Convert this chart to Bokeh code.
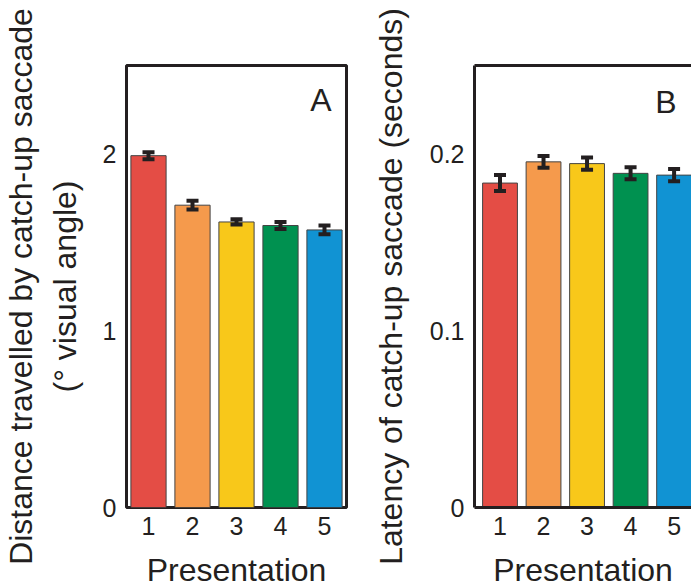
from bokeh.embed import file_html
from bokeh.layouts import row
from bokeh.models import ColumnDataSource, FixedTicker, Label, LinearAxis, Range1d, TeeHead, Whisker
from bokeh.plotting import figure
from bokeh.resources import INLINE

# data
presentation = [1, 2, 3, 4, 5]
colors = ["#E44D45", "#F59A4C", "#F8C81A", "#009150", "#1193D3"]

distance = [1.99, 1.71, 1.615, 1.595, 1.57]
distance_err = [0.02, 0.025, 0.015, 0.02, 0.025]

latency = [0.1835, 0.1955, 0.1945, 0.189, 0.188]
latency_err = [0.0045, 0.0033, 0.0035, 0.0034, 0.0035]

FONT = "Liberation Sans"
FRAME = "#231f20"


def style_axes(p):
    p.grid.visible = False
    for ax in p.axis:
        ax.major_tick_line_color = None
        ax.minor_tick_line_color = None
        ax.major_tick_out = 0
        ax.major_tick_in = 0
        ax.minor_tick_out = 0
        ax.major_label_text_font = FONT
        ax.major_label_text_font_size = "25px"
        ax.major_label_text_color = FRAME
        ax.axis_label_text_font = FONT
        ax.axis_label_text_font_size = "32px"
        ax.axis_label_text_font_style = "normal"
        ax.axis_label_text_color = FRAME
    p.xaxis.ticker = FixedTicker(ticks=presentation)
    p.xaxis.major_label_standoff = 9
    p.xaxis.axis_label = "Presentation"
    p.xaxis.axis_label_standoff = 14
    p.xaxis.axis_label_text_line_height = 0.8
    p.yaxis.major_label_standoff = 10


def add_bars(p, vals, errs):
    source = ColumnDataSource(dict(
        x=presentation, top=vals, color=colors,
        upper=[v + e for v, e in zip(vals, errs)],
        lower=[v - e for v, e in zip(vals, errs)],
    ))
    p.vbar(x="x", top="top", width=0.8, bottom=0, source=source,
           fill_color="color", line_color="#444444", line_width=1)
    # error bars drawn on top of the bars
    w = Whisker(base="x", upper="upper", lower="lower", source=source, level="overlay",
                line_color=FRAME, line_width=4,
                upper_head=TeeHead(size=12, line_width=4, line_color=FRAME),
                lower_head=TeeHead(size=12, line_width=4, line_color=FRAME))
    p.add_layout(w)


# Panel A
pa = figure(x_range=Range1d(0.5, 5.5), y_range=Range1d(0, 2.5),
            frame_width=220, frame_height=442,
            min_border_left=126, min_border_right=18,
            min_border_top=65, min_border_bottom=80,
            output_backend="svg", toolbar_location=None)
add_bars(pa, distance, distance_err)
style_axes(pa)
pa.yaxis.ticker = FixedTicker(ticks=[0, 1, 2])
pa.yaxis.axis_label = "Distance travelled by catch-up saccade\n(° visual angle)"
pa.yaxis.axis_label_standoff = 17
pa.axis.axis_line_color = None
pa.outline_line_color = FRAME
pa.outline_line_width = 3
pa.outline_line_alpha = 1
pa.add_layout(Label(x=5.16, y=2.307, text="A", text_align="right", text_baseline="middle",
                    text_font=FONT, text_font_size="32px", text_color=FRAME))

# Panel B (its right side runs off the page like the reference)
pb = figure(x_range=Range1d(0.414, 5.40), y_range=Range1d(0, 0.25),
            frame_width=217, frame_height=442,
            min_border_left=110, min_border_right=0,
            min_border_top=65, min_border_bottom=80,
            output_backend="svg", toolbar_location=None)
add_bars(pb, latency, latency_err)
style_axes(pb)
pb.yaxis.ticker = FixedTicker(ticks=[0, 0.1, 0.2])
pb.yaxis.major_label_overrides = {0: "0", 0.1: "0.1", 0.2: "0.2"}
pb.yaxis.axis_label = "Latency of catch-up saccade (seconds)"
pb.yaxis.axis_label_standoff = 18
pb.outline_line_color = None
for ax in pb.axis:
    ax.axis_line_color = FRAME
    ax.axis_line_width = 3
top_line = LinearAxis(ticker=FixedTicker(ticks=[]), major_tick_line_color=None,
                      minor_tick_line_color=None, major_tick_out=0, minor_tick_out=0,
                      axis_line_color=FRAME, axis_line_width=3)
pb.add_layout(top_line, "above")
pb.add_layout(Label(x=5.06, y=0.2294, text="B", text_align="right", text_baseline="middle",
                    text_font=FONT, text_font_size="32px", text_color=FRAME))

p = row(pa, pb)
open("out.html", "w").write(file_html(p, INLINE))
